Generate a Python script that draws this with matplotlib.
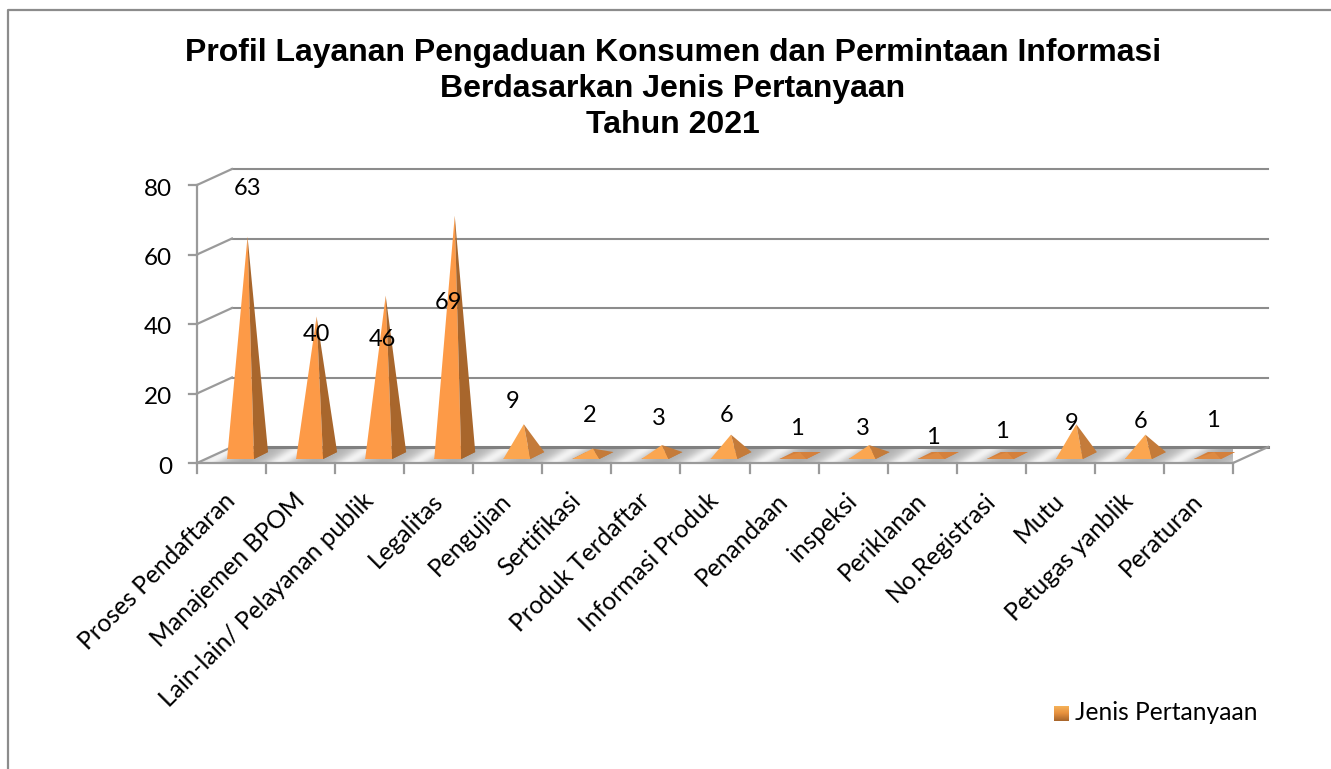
import numpy as np
import matplotlib
matplotlib.use("Agg")
import matplotlib.pyplot as plt
from matplotlib.lines import Line2D
from matplotlib.patches import Polygon
from matplotlib.colors import LinearSegmentedColormap

categories = ["Proses Pendaftaran", "Manajemen BPOM", "Lain-lain/ Pelayanan publik", "Legalitas",
              "Pengujian", "Sertifikasi", "Produk Terdaftar", "Informasi Produk", "Penandaan",
              "inspeksi", "Periklanan", "No.Registrasi", "Mutu", "Petugas yanblik", "Peraturan"]
values = [63, 40, 46, 69, 9, 2, 3, 6, 1, 3, 1, 1, 9, 6, 1]
y_ticks = [0, 20, 40, 60, 80]
title = "Profil Layanan Pengaduan Konsumen dan Permintaan Informasi\nBerdasarkan Jenis Pertanyaan\nTahun 2021"
series_name = "Jenis Pertanyaan"

W, H = 1331, 769
label_font = "Lato"
GRID = "#9a9a9a"

fig = plt.figure(figsize=(W / 100, H / 100), dpi=100)
ax = fig.add_axes([197 / W, 1 - 463 / H, 1036 / W, 278 / H])
ax.axis("off")

# pixel sizes turned into data units, for the fake 3d depth
n = len(categories)
ux = 1036 / n
uy = 278 / 80
depth_x = 35 / ux
depth_y = 16 / uy


def outline(xs, ys, lw=1.6, color=GRID, z=2):
    ax.plot(xs, ys, color=color, lw=lw, clip_on=False, zorder=z, solid_capstyle="projecting")


# floor with the silver stripes
floor = Polygon([(0, 0), (n, 0), (n + depth_x, depth_y), (depth_x, depth_y)], closed=True,
                transform=ax.transData, fc="none", ec="none")
ax.add_patch(floor)
gx, gy = np.meshgrid(np.linspace(0, n + 1, 1500), np.linspace(0, 1, 30))
stripes = 0.5 + 0.5 * np.cos(2 * np.pi * (gx - 0.34 - 0.36 * (gy - 0.5)))
shade = 0.73 + 0.22 * stripes ** 3 - 0.05 * (1 - stripes) ** 4
img = ax.imshow(shade, cmap="gray", vmin=0, vmax=1, extent=[0, n + 1, 0, depth_y], origin="lower",
                aspect="auto", zorder=1)
img.set_clip_path(floor)
ax.set_xlim(0, n)
ax.set_ylim(0, 80)

# walls and gridlines
for t in y_ticks:
    outline([depth_x, n + depth_x], [t + depth_y, t + depth_y], lw=1.5 if t else 2.2, color="#8c8c8c" if t else "#808080")
    outline([0, depth_x], [t, t + depth_y])
    outline([-8 / ux, 0], [t, t])
    ax.annotate(str(t), (0, t), xytext=(-25, -4), textcoords="offset pixels", ha="right", va="center",
                fontsize=17.5, family=label_font, color="black", annotation_clip=False)
outline([0, 0], [0, 80])
outline([0, n], [0, 0])
outline([n, n + depth_x], [0, depth_y])
for i in range(n + 1):
    outline([i, i], [0, -10 / uy], lw=1.6)

# pyramids
for i, v in enumerate(values):
    fl = (i + 0.5 - 4.5 / ux, 4 / uy)
    fr = (i + 0.5 + 22.5 / ux, 4 / uy)
    br = (i + 0.5 + 36.5 / ux, 11 / uy)
    bl = (i + 0.5 + 9.5 / ux, 11 / uy)
    top = (i + 0.5 + 16 / ux, 7.5 / uy + v)
    if v <= 1:
        front, side = "#de8a42", "#d4803c"
    elif v < 10:
        front, side = "#fba650", "#c47b3a"
    else:
        front, side = "#fd9a47", "#a8662c"
    ax.add_patch(Polygon([fl, fr, br, bl], closed=True, fc=side, ec="none", zorder=3, clip_on=False))
    ax.add_patch(Polygon([fl, fr, top], closed=True, fc=front, ec="none", zorder=4, clip_on=False))
    ax.add_patch(Polygon([fr, br, top], closed=True, fc=side, ec="none", zorder=4, clip_on=False))

# data labels sit by hand, pixels away from the pyramid tip
label_dx = [0, 0, -3, -6, -11, -3, -3, -4, -3, -6, -5, -5, -5, -5, -2]
label_dy = [49, -17, -43, -86, 24, 34, 28, 20, 25, 18, 16, 22, 2, 14, 33]
for i, v in enumerate(values):
    ax.annotate(str(v), (i + 0.5 + 16 / ux, 7.5 / uy + v), xytext=(label_dx[i], label_dy[i] - 1),
                textcoords="offset pixels", ha="center", va="center", fontsize=17,
                family=label_font, color="black", zorder=6, annotation_clip=False)

# category labels
for i, name in enumerate(categories):
    ax.annotate(name, (i + 0.5, 0), xytext=(0, -34), textcoords="offset pixels", rotation=45,
                rotation_mode="anchor", ha="right", va="center", fontsize=17.7, family=label_font,
                color="black", annotation_clip=False)

fig.text(673 / W, 1 - 89 / H, title, ha="center", va="center", fontsize=23, fontweight="bold",
         family="Liberation Sans", linespacing=1.28)

# legend
swatch = fig.add_axes([1054 / W, 1 - 721 / H, 15 / W, 15 / H])
cm = LinearSegmentedColormap.from_list("sw", ["#f7b65c", "#e8913f", "#a8662c"])
swatch.imshow(np.linspace(0, 1, 30).reshape(-1, 1), cmap=cm, aspect="auto")
swatch.axis("off")
fig.text(1075 / W, 1 - 713 / H, series_name, ha="left", va="center", fontsize=17.7, family=label_font)

# outer chart frame
fig.add_artist(Line2D([8 / W, 8 / W, 1], [0, 1 - 10 / H, 1 - 10 / H], color="#8c8c8c", lw=1.6))

fig.savefig("out.png", dpi=100)
